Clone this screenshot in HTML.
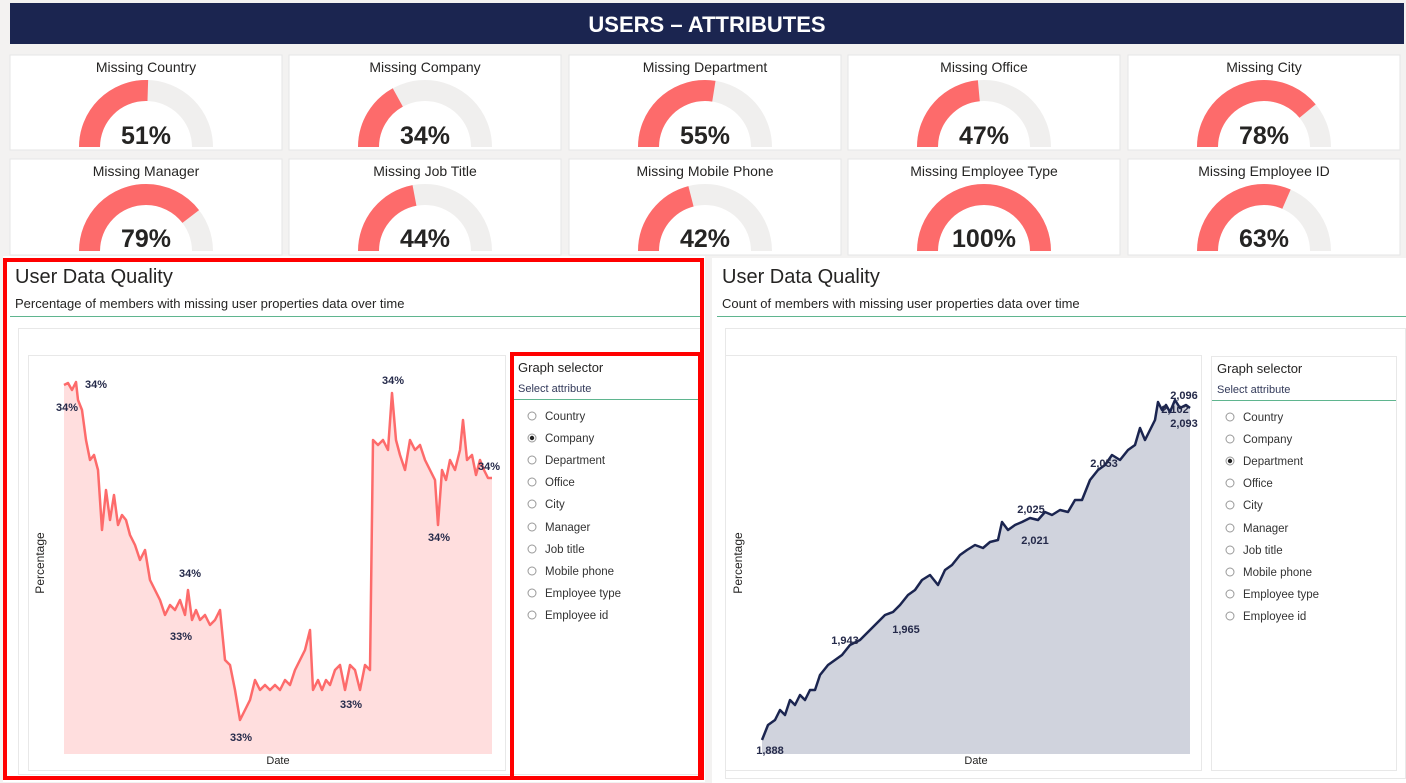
<!DOCTYPE html>
<html><head><meta charset="utf-8"><style>
html,body{margin:0;padding:0;background:#f3f2f1;}
svg{display:block;font-family:"Liberation Sans","DejaVu Sans",sans-serif;}
</style></head><body>
<svg width="1406" height="783" viewBox="0 0 1406 783" xmlns="http://www.w3.org/2000/svg">
<rect width="1406" height="783" fill="#f3f2f1"/>
<rect x="10" y="3" width="1394" height="41" fill="#1b2550"/>
<text x="707" y="32" fill="#fff" font-size="22" font-weight="bold" text-anchor="middle">USERS – ATTRIBUTES</text>
<g font-size="14" fill="#252423" text-anchor="middle">
<rect x="10" y="55" width="272" height="95" fill="#fff" stroke="#e6e6e6"/>
<rect x="289" y="55" width="272" height="95" fill="#fff" stroke="#e6e6e6"/>
<rect x="569" y="55" width="272" height="95" fill="#fff" stroke="#e6e6e6"/>
<rect x="848" y="55" width="272" height="95" fill="#fff" stroke="#e6e6e6"/>
<rect x="1128" y="55" width="272" height="95" fill="#fff" stroke="#e6e6e6"/>
<rect x="10" y="159" width="272" height="96" fill="#fff" stroke="#e6e6e6"/>
<rect x="289" y="159" width="272" height="96" fill="#fff" stroke="#e6e6e6"/>
<rect x="569" y="159" width="272" height="96" fill="#fff" stroke="#e6e6e6"/>
<rect x="848" y="159" width="272" height="96" fill="#fff" stroke="#e6e6e6"/>
<rect x="1128" y="159" width="272" height="96" fill="#fff" stroke="#e6e6e6"/>
<text x="146" y="72">Missing Country</text>
<text x="425" y="72">Missing Company</text>
<text x="705" y="72">Missing Department</text>
<text x="984" y="72">Missing Office</text>
<text x="1264" y="72">Missing City</text>
<text x="146" y="176">Missing Manager</text>
<text x="425" y="176">Missing Job Title</text>
<text x="705" y="176">Missing Mobile Phone</text>
<text x="984" y="176">Missing Employee Type</text>
<text x="1264" y="176">Missing Employee ID</text>
</g>
<g fill="none" stroke-width="21">
<g stroke="#f0efee">
<path d="M89.5 147 A56.5 56.5 0 0 1 202.5 147"/>
<path d="M368.5 147 A56.5 56.5 0 0 1 481.5 147"/>
<path d="M648.5 147 A56.5 56.5 0 0 1 761.5 147"/>
<path d="M927.5 147 A56.5 56.5 0 0 1 1040.5 147"/>
<path d="M1207.5 147 A56.5 56.5 0 0 1 1320.5 147"/>
<path d="M89.5 251 A56.5 56.5 0 0 1 202.5 251"/>
<path d="M368.5 251 A56.5 56.5 0 0 1 481.5 251"/>
<path d="M648.5 251 A56.5 56.5 0 0 1 761.5 251"/>
<path d="M927.5 251 A56.5 56.5 0 0 1 1040.5 251"/>
<path d="M1207.5 251 A56.5 56.5 0 0 1 1320.5 251"/>
</g>
<g stroke="#fd6b6b">
<path d="M89.5 147 A56.5 56.5 0 0 1 202.5 147" stroke-dasharray="90.5 1000"/>
<path d="M368.5 147 A56.5 56.5 0 0 1 481.5 147" stroke-dasharray="60.3 1000"/>
<path d="M648.5 147 A56.5 56.5 0 0 1 761.5 147" stroke-dasharray="97.6 1000"/>
<path d="M927.5 147 A56.5 56.5 0 0 1 1040.5 147" stroke-dasharray="83.4 1000"/>
<path d="M1207.5 147 A56.5 56.5 0 0 1 1320.5 147" stroke-dasharray="138.4 1000"/>
<path d="M89.5 251 A56.5 56.5 0 0 1 202.5 251" stroke-dasharray="140.2 1000"/>
<path d="M368.5 251 A56.5 56.5 0 0 1 481.5 251" stroke-dasharray="78.1 1000"/>
<path d="M648.5 251 A56.5 56.5 0 0 1 761.5 251" stroke-dasharray="74.5 1000"/>
<path d="M927.5 251 A56.5 56.5 0 0 1 1040.5 251" stroke-dasharray="177.5 1000"/>
<path d="M1207.5 251 A56.5 56.5 0 0 1 1320.5 251" stroke-dasharray="111.8 1000"/>
</g></g>
<g font-size="25" font-weight="bold" fill="#252423" text-anchor="middle">
<text x="146" y="144">51%</text><text x="425" y="144">34%</text><text x="705" y="144">55%</text><text x="984" y="144">47%</text><text x="1264" y="144">78%</text>
<text x="146" y="247">79%</text><text x="425" y="247">44%</text><text x="705" y="247">42%</text><text x="984" y="247">100%</text><text x="1264" y="247">63%</text>
</g>
<!-- panels -->
<rect x="3" y="256" width="702" height="526" fill="#fff"/>
<rect x="712" y="258" width="694" height="525" fill="#fff"/>
<g fill="#252423">
<text x="15" y="283" font-size="20">User Data Quality</text>
<text x="15" y="308" font-size="13">Percentage of members with missing user properties data over time</text>
<text x="722" y="283" font-size="20">User Data Quality</text>
<text x="722" y="308" font-size="13">Count of members with missing user properties data over time</text>
</g>
<line x1="10" y1="316.5" x2="700" y2="316.5" stroke="#5fb58f" stroke-width="1"/>
<line x1="717" y1="316.5" x2="1406" y2="316.5" stroke="#5fb58f" stroke-width="1"/>
<rect x="18.5" y="328.5" width="682" height="446" fill="#fff" stroke="#e8e8e8"/>
<rect x="725.5" y="328.5" width="680" height="450" fill="#fff" stroke="#e8e8e8"/>
<rect x="28.5" y="355.5" width="477" height="415" fill="#fff" stroke="#e8e8e8"/>
<rect x="725.5" y="355.5" width="476" height="415" fill="#fff" stroke="#e8e8e8"/>
<rect x="1211.5" y="356.5" width="185" height="414" fill="#fff" stroke="#e8e8e8"/>
<!-- left chart -->
<polygon fill="#ffdede" points="64,754 64,385 68,383 72,390 76,382 78,400 82,410 86,440 90,460 94,455 98,470 102,530 106,490 110,520 114,495 118,525 122,515 126,520 130,535 135,545 140,560 145,550 150,580 155,590 160,600 165,615 170,605 175,610 180,600 185,615 188,590 192,620 196,610 200,620 205,615 210,625 215,620 220,610 225,660 230,665 235,690 240,720 245,710 250,700 255,680 260,690 265,685 270,690 275,685 280,690 285,680 290,685 295,670 300,660 305,650 310,630 313,690 318,680 322,690 326,680 330,685 335,670 340,665 345,690 350,665 355,670 360,690 365,665 370,670 373,440 378,445 383,440 388,450 392,393 396,440 400,455 405,470 410,440 415,450 420,445 425,460 430,470 435,480 438,525 442,470 446,480 450,460 455,470 460,450 463,420 467,460 472,455 476,475 480,460 484,470 488,478 492,478 492,754"/>
<polyline fill="none" stroke="#fd6b6b" stroke-width="2.5" stroke-linejoin="round" points="64,385 68,383 72,390 76,382 78,400 82,410 86,440 90,460 94,455 98,470 102,530 106,490 110,520 114,495 118,525 122,515 126,520 130,535 135,545 140,560 145,550 150,580 155,590 160,600 165,615 170,605 175,610 180,600 185,615 188,590 192,620 196,610 200,620 205,615 210,625 215,620 220,610 225,660 230,665 235,690 240,720 245,710 250,700 255,680 260,690 265,685 270,690 275,685 280,690 285,680 290,685 295,670 300,660 305,650 310,630 313,690 318,680 322,690 326,680 330,685 335,670 340,665 345,690 350,665 355,670 360,690 365,665 370,670 373,440 378,445 383,440 388,450 392,393 396,440 400,455 405,470 410,440 415,450 420,445 425,460 430,470 435,480 438,525 442,470 446,480 450,460 455,470 460,450 463,420 467,460 472,455 476,475 480,460 484,470 488,478 492,478"/>
<g font-size="11" font-weight="bold" fill="#252a4a" text-anchor="middle">
<text x="96" y="388">34%</text><text x="67" y="411">34%</text><text x="190" y="577">34%</text><text x="181" y="640">33%</text><text x="241" y="741">33%</text><text x="351" y="708">33%</text><text x="393" y="384">34%</text><text x="439" y="541">34%</text><text x="489" y="470">34%</text>
</g>
<text x="278" y="764" font-size="11" fill="#252423" text-anchor="middle">Date</text>
<text transform="translate(44,563) rotate(-90)" font-size="12" fill="#252423" text-anchor="middle">Percentage</text>
<!-- right chart -->
<polygon fill="#d0d3dd" points="762,754 762,740 768,725 775,720 780,710 785,715 790,700 795,705 800,695 805,700 810,690 815,690 820,675 828,665 835,660 842,655 850,645 860,640 870,630 878,622 885,615 893,612 900,605 908,595 915,590 922,580 930,575 938,585 945,570 952,565 960,555 967,550 975,545 983,548 990,542 998,540 1002,522 1008,530 1015,525 1022,522 1030,518 1038,520 1045,512 1052,515 1060,510 1068,512 1075,500 1082,500 1090,480 1098,470 1105,465 1112,455 1120,460 1128,450 1135,445 1140,428 1145,440 1150,430 1155,420 1158,402 1162,410 1166,405 1170,412 1175,400 1180,408 1186,405 1190,408 1190,754"/>
<polyline fill="none" stroke="#1b2550" stroke-width="2.5" stroke-linejoin="round" points="762,740 768,725 775,720 780,710 785,715 790,700 795,705 800,695 805,700 810,690 815,690 820,675 828,665 835,660 842,655 850,645 860,640 870,630 878,622 885,615 893,612 900,605 908,595 915,590 922,580 930,575 938,585 945,570 952,565 960,555 967,550 975,545 983,548 990,542 998,540 1002,522 1008,530 1015,525 1022,522 1030,518 1038,520 1045,512 1052,515 1060,510 1068,512 1075,500 1082,500 1090,480 1098,470 1105,465 1112,455 1120,460 1128,450 1135,445 1140,428 1145,440 1150,430 1155,420 1158,402 1162,410 1166,405 1170,412 1175,400 1180,408 1186,405 1190,408"/>
<g font-size="11" font-weight="bold" fill="#252a4a" text-anchor="middle">
<text x="770" y="754">1,888</text><text x="845" y="644">1,943</text><text x="906" y="633">1,965</text><text x="1031" y="513">2,025</text><text x="1035" y="544">2,021</text><text x="1104" y="467">2,053</text><text x="1184" y="399">2,096</text><text x="1175" y="413">2,102</text><text x="1184" y="427">2,093</text>
</g>
<text x="976" y="764" font-size="11" fill="#252423" text-anchor="middle">Date</text>
<text transform="translate(742,563) rotate(-90)" font-size="12" fill="#252423" text-anchor="middle">Percentage</text>
<!-- selectors -->
<g fill="#252423">
<text x="518" y="372" font-size="13">Graph selector</text>
<text x="518" y="392" font-size="11" fill="#333a5a">Select attribute</text>
<text x="1217" y="373" font-size="13">Graph selector</text>
<text x="1217" y="393" font-size="11" fill="#333a5a">Select attribute</text>
</g>
<line x1="514" y1="399.5" x2="698" y2="399.5" stroke="#5fb58f"/>
<line x1="1212" y1="400.5" x2="1396" y2="400.5" stroke="#5fb58f"/>
<g font-size="11.5" fill="#333">
<text x="545" y="420">Country</text><text x="545" y="442">Company</text><text x="545" y="464">Department</text><text x="545" y="486">Office</text><text x="545" y="508">City</text><text x="545" y="531">Manager</text><text x="545" y="553">Job title</text><text x="545" y="575">Mobile phone</text><text x="545" y="597">Employee type</text><text x="545" y="619">Employee id</text>
<text x="1243" y="421">Country</text><text x="1243" y="443">Company</text><text x="1243" y="465">Department</text><text x="1243" y="487">Office</text><text x="1243" y="509">City</text><text x="1243" y="532">Manager</text><text x="1243" y="554">Job title</text><text x="1243" y="576">Mobile phone</text><text x="1243" y="598">Employee type</text><text x="1243" y="620">Employee id</text>
</g>
<g fill="#fff" stroke="#999" stroke-width="1">
<circle cx="532" cy="416" r="4"/><circle cx="532" cy="438" r="4"/><circle cx="532" cy="460" r="4"/><circle cx="532" cy="482" r="4"/><circle cx="532" cy="504" r="4"/><circle cx="532" cy="527" r="4"/><circle cx="532" cy="549" r="4"/><circle cx="532" cy="571" r="4"/><circle cx="532" cy="593" r="4"/><circle cx="532" cy="615" r="4"/>
<circle cx="1230" cy="417" r="4"/><circle cx="1230" cy="439" r="4"/><circle cx="1230" cy="461" r="4"/><circle cx="1230" cy="483" r="4"/><circle cx="1230" cy="505" r="4"/><circle cx="1230" cy="528" r="4"/><circle cx="1230" cy="550" r="4"/><circle cx="1230" cy="572" r="4"/><circle cx="1230" cy="594" r="4"/><circle cx="1230" cy="616" r="4"/>
</g>
<circle cx="532" cy="438" r="2.2" fill="#222"/>
<circle cx="1230" cy="461" r="2.2" fill="#222"/>
<!-- red highlight borders -->
<rect x="5" y="260" width="697" height="518" fill="none" stroke="#f00" stroke-width="4"/>
<rect x="512" y="354" width="188" height="424" fill="none" stroke="#f00" stroke-width="4"/>
</svg>
</body></html>
